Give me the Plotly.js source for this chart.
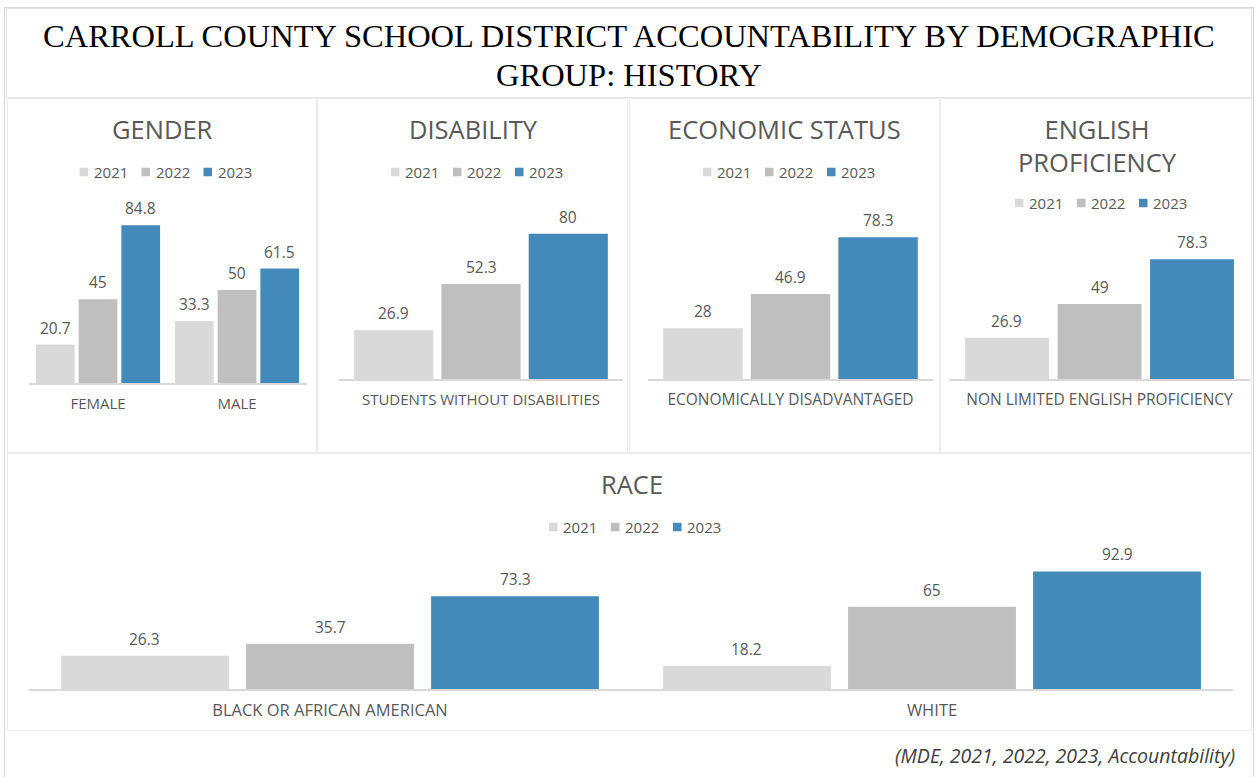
<!DOCTYPE html>
<html>
<head>
<meta charset="utf-8">
<script src="https://cdn.plot.ly/plotly-3.0.1.min.js"></script>
<style>
  html, body { margin: 0; padding: 0; background: #ffffff; }
  #chart { width: 1258px; height: 777px; }
</style>
</head>
<body>
<div id="chart"></div>
<script>
// ---------------- DATA ----------------
const years = ['2021', '2022', '2023'];

const genderCategories = ['FEMALE', 'MALE'];
const gender2021 = [20.7, 33.3];
const gender2022 = [45, 50];
const gender2023 = [84.8, 61.5];

const disabilityCategories = ['STUDENTS WITHOUT DISABILITIES'];
const disability2021 = [26.9];
const disability2022 = [52.3];
const disability2023 = [80];

const economicCategories = ['ECONOMICALLY DISADVANTAGED'];
const economic2021 = [28];
const economic2022 = [46.9];
const economic2023 = [78.3];

const englishCategories = ['NON LIMITED ENGLISH PROFICIENCY'];
const english2021 = [26.9];
const english2022 = [49];
const english2023 = [78.3];

const raceCategories = ['BLACK OR AFRICAN AMERICAN', 'WHITE'];
const race2021 = [26.3, 18.2];
const race2022 = [35.7, 65];
const race2023 = [73.3, 92.9];

const mainTitleLines = ['CARROLL COUNTY SCHOOL DISTRICT ACCOUNTABILITY BY DEMOGRAPHIC', 'GROUP: HISTORY'];
const sourceNote = '(MDE, 2021, 2022, 2023, Accountability)';

// ---------------- STYLE / LAYOUT ----------------
const W = 1258, H = 777;
const fx = p => p / W;
const fy = p => 1 - p / H;
const yearColors = ['#d9d9d9', '#bfbfbf', '#4389b9'];
const textGrey = '#595959';
const FONT = 'Open Sans, Noto Sans, DejaVu Sans, sans-serif';
const BARGAP = 0.078, BARGROUPGAP = 0.093;

const panels = [
  { title: 'GENDER', cats: genderCategories, series: [gender2021, gender2022, gender2023],
    xdom: [28.5, 306.5], base: 383, pxPerUnit: 1.86, titleX: 162, titleY: 129, legX: 165, legY: 172,
    box: [7, 98, 317, 453], tickSize: 15 },
  { title: 'DISABILITY', cats: disabilityCategories, series: [disability2021, disability2022, disability2023],
    xdom: [339, 623], base: 379, pxPerUnit: 1.815, titleX: 473, titleY: 129, legX: 476.5, legY: 172,
    box: [317, 98, 628, 453], tickSize: 15 },
  { title: 'ECONOMIC STATUS', cats: economicCategories, series: [economic2021, economic2022, economic2023],
    xdom: [648, 933], base: 379, pxPerUnit: 1.81, titleX: 784, titleY: 129, legX: 788.5, legY: 172,
    box: [629, 98, 940, 453], tickSize: 15.5 },
  { title: 'ENGLISH<br>PROFICIENCY', cats: englishCategories, series: [english2021, english2022, english2023],
    xdom: [949, 1250], base: 379, pxPerUnit: 1.53, titleX: 1097, titleY: 145, legX: 1100.5, legY: 203,
    box: [940, 98, 1252, 453], tickSize: 15.5 },
  { title: 'RACE', cats: raceCategories, series: [race2021, race2022, race2023],
    xdom: [29, 1233], base: 689, pxPerUnit: 1.265, titleX: 632, titleY: 484, legX: 634.5, legY: 527,
    box: [7, 453, 1252, 731], tickSize: 16.5 }
];

const data = [];
const annotations = [];
const shapes = [];
const layout = {
  width: W, height: H,
  margin: { l: 0, r: 0, t: 0, b: 0, pad: 0 },
  paper_bgcolor: '#ffffff',
  plot_bgcolor: 'rgba(0,0,0,0)',
  showlegend: false,
  barmode: 'group',
  bargap: BARGAP,
  bargroupgap: BARGROUPGAP,
  font: { family: FONT, color: textGrey, size: 15 },
  annotations: annotations,
  shapes: shapes
};

// outer frame and title box
shapes.push({ type: 'rect', xref: 'paper', yref: 'paper', x0: fx(4.5), x1: fx(1253.5), y0: fy(7.5), y1: fy(790),
  line: { color: '#d9d9d9', width: 1.2 }, fillcolor: 'rgba(0,0,0,0)', layer: 'below' });
shapes.push({ type: 'rect', xref: 'paper', yref: 'paper', x0: fx(6.5), x1: fx(1251.5), y0: fy(8.5), y1: fy(97.5),
  line: { color: '#e4e4e4', width: 1 }, fillcolor: 'rgba(0,0,0,0)', layer: 'below' });

// main title (two lines)
const titleLineY = [36, 75];
mainTitleLines.forEach((t, i) => {
  annotations.push({ xref: 'paper', yref: 'paper', x: fx(629), y: fy(titleLineY[i]), xanchor: 'center', yanchor: 'middle',
    text: t, showarrow: false, font: { family: 'Liberation Serif, DejaVu Serif, serif', size: 32.5, color: '#000000' } });
});

annotations.push({ xref: 'paper', yref: 'paper', x: fx(1237), y: fy(755), xanchor: 'right', yanchor: 'middle',
  text: '<i>' + sourceNote + '</i>', showarrow: false, font: { family: FONT, size: 19.5, color: '#404040' } });

panels.forEach((p, k) => {
  const n = k === 0 ? '' : String(k + 1);
  const xa = 'x' + n, ya = 'y' + n;
  const ymax = 100;
  const top = p.base - ymax * p.pxPerUnit;

  layout['xaxis' + n] = {
    domain: [fx(p.xdom[0]), fx(p.xdom[1])],
    anchor: ya, type: 'category',
    showline: true, linecolor: '#d9d9d9', linewidth: 1.5,
    showgrid: false, zeroline: false, ticks: '',
    ticklabelstandoff: 6,
    tickfont: { family: FONT, size: p.tickSize, color: textGrey },
    fixedrange: true
  };
  layout['yaxis' + n] = {
    domain: [fy(p.base), fy(top)],
    anchor: xa, range: [0, ymax], visible: false, fixedrange: true
  };

  // panel border
  shapes.push({ type: 'rect', xref: 'paper', yref: 'paper',
    x0: fx(p.box[0] + 0.5), x1: fx(p.box[2] - 0.5), y0: fy(p.box[1] + 0.5), y1: fy(p.box[3] - 0.5),
    line: { color: '#ebebeb', width: 1 }, fillcolor: 'rgba(0,0,0,0)', layer: 'below' });

  // panel title
  annotations.push({ xref: 'paper', yref: 'paper', x: fx(p.titleX), y: fy(p.titleY), xanchor: 'center', yanchor: 'middle',
    text: p.title, showarrow: false, font: { family: FONT, size: 25.5, color: textGrey } });

  // bars
  const pitch = (1 - BARGAP) / years.length;
  p.series.forEach((vals, i) => {
    data.push({
      type: 'bar', x: p.cats, y: vals, name: years[i], xaxis: xa, yaxis: ya,
      marker: { color: yearColors[i], line: { width: 0 } },
      hoverinfo: 'skip', cliponaxis: false
    });
    // data labels above each bar, positioned on the axes' own scales
    vals.forEach((v, c) => {
      annotations.push({ xref: xa, yref: ya, x: c + (i - (years.length - 1) / 2) * pitch, y: v,
        xanchor: 'center', yanchor: 'middle', yshift: 17, showarrow: false,
        text: String(v), font: { family: FONT, size: 15.5, color: textGrey } });
    });
  });

  // per-panel legend (swatch + label)
  const legOffsets = [-85.5, -23.5, 38.5];
  years.forEach((yr, i) => {
    const sx = p.legX + legOffsets[i];
    shapes.push({ type: 'rect', xref: 'paper', yref: 'paper',
      x0: fx(sx), x1: fx(sx + 8.5), y0: fy(p.legY + 4.25), y1: fy(p.legY - 4.25),
      line: { width: 0 }, fillcolor: yearColors[i] });
    annotations.push({ xref: 'paper', yref: 'paper', x: fx(sx + 12), y: fy(p.legY), xanchor: 'left', yanchor: 'middle',
      text: yr, showarrow: false, font: { family: FONT, size: 15, color: textGrey } });
  });
});

Plotly.newPlot('chart', data, layout, { displayModeBar: false, staticPlot: true });
</script>
</body>
</html>
